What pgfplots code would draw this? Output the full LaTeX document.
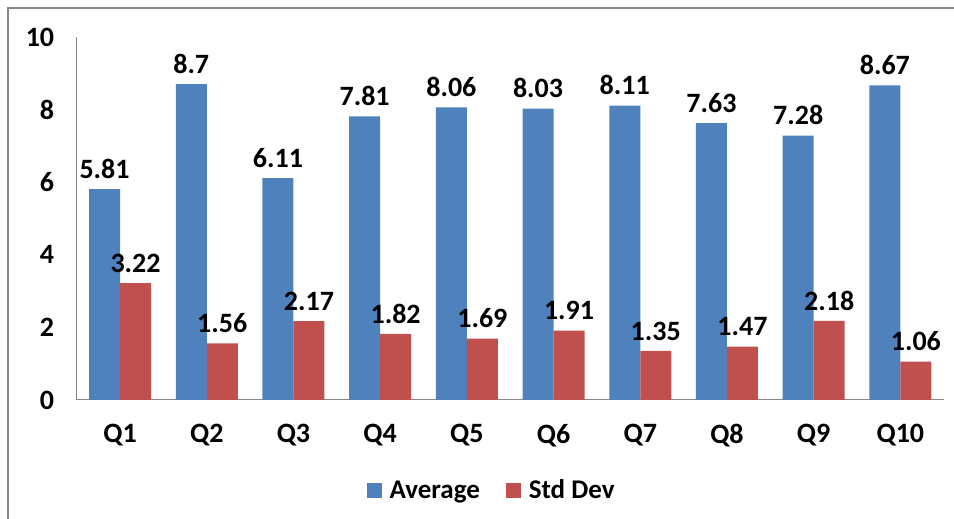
\documentclass[border=0pt]{standalone}
\usepackage{pgfplots}
\pgfplotsset{compat=1.18}
\usepackage{fontspec}
\setmainfont{Carlito}
\definecolor{avg}{HTML}{4F81BD}
\definecolor{sd}{HTML}{C0504D}
\definecolor{framec}{HTML}{868686}
\begin{document}
\begin{tikzpicture}[x=1pt,y=1pt]
\useasboundingbox (0,0) rectangle (954,519);
\draw[framec, line width=2pt] (8,-10) -- (8,511) -- (970,511);
\begin{axis}[
  at={(76.7pt,119pt)}, anchor=south west,
  scale only axis, width=867pt, height=363pt,
  ybar=0pt, bar width=31pt,
  xmin=-0.5, xmax=9.5, ymin=0, ymax=10,
  xtick=data, xticklabels={Q1,Q2,Q3,Q4,Q5,Q6,Q7,Q8,Q9,Q10},
  ytick={0,2,4,6,8,10},
  axis x line*=bottom, axis y line*=left,
  axis line style={-, draw=framec, line width=1pt},
  major tick length=0pt,
  /pgf/number format/assume math mode=true,
  tick label style={font=\fontsize{28}{28}\selectfont\bfseries},
  xticklabel style={yshift=-21pt},
  yticklabel style={xshift=-19pt},
  nodes near coords,
  every node near coord/.append style={font=\fontsize{28}{28}\selectfont\bfseries, yshift=7pt, black},
  legend style={at={(0.4785,-0.248)}, anchor=center, draw=none, fill=none,
    legend columns=2, font=\fontsize{27}{27}\selectfont\bfseries,
    /tikz/every odd column/.append style={column sep=6pt},
    /tikz/every even column/.append style={column sep=24pt}},
  legend image code/.code={\fill[#1] (0pt,-7.5pt) rectangle (15pt,7.5pt);},
]
\addplot[fill=avg, draw=none] coordinates {(0,5.81) (1,8.7) (2,6.11) (3,7.81) (4,8.06) (5,8.03) (6,8.11) (7,7.63) (8,7.28) (9,8.67)};
\addplot[fill=sd, draw=none] coordinates {(0,3.22) (1,1.56) (2,2.17) (3,1.82) (4,1.69) (5,1.91) (6,1.35) (7,1.47) (8,2.18) (9,1.06)};
\legend{Average, Std Dev}
\end{axis}
\end{tikzpicture}
\end{document}
